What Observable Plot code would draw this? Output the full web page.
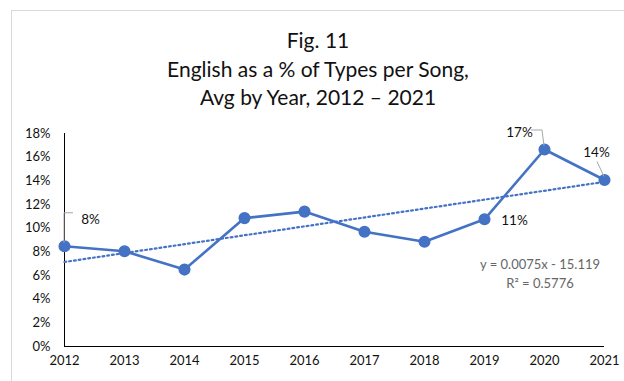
<!DOCTYPE html>
<html>
<head>
<meta charset="utf-8">
<script src="https://cdn.jsdelivr.net/npm/d3@7"></script>
<script src="https://cdn.jsdelivr.net/npm/@observablehq/plot@0.6"></script>
<style>
  html, body { margin: 0; padding: 0; background: #fff; }
  #wrap { position: relative; width: 624px; height: 381px; overflow: hidden; font-family: Lato, "Open Sans", sans-serif; }
  #border { position: absolute; left: 11px; top: 10px; width: 640px; height: 400px; border: 1px solid #d9d9d9; box-sizing: border-box; }
  #title { position: absolute; left: 0; width: 636px; top: 26px; text-align: center; font-size: 21px; line-height: 28.5px; color: #111; }
  #eq { position: absolute; left: 470px; width: 140px; top: 255px; text-align: center; font-size: 13px; line-height: 19px; color: #666; }
  #chart { position: absolute; left: 0; top: 0; }
</style>
</head>
<body>
<div id="wrap">
  <div id="border"></div>
  <div id="chart"></div>
  <div id="title">Fig. 11<br>English as a % of Types per Song,<br>Avg by Year, 2012 – 2021</div>
  <div id="eq">y = 0.0075x - 15.119<br>R² = 0.5776</div>
</div>
<script>
const years = [2012, 2013, 2014, 2015, 2016, 2017, 2018, 2019, 2020, 2021];
const values = [0.0847, 0.0805, 0.0650, 0.1085, 0.1140, 0.0970, 0.0885, 0.1075, 0.1665, 0.1407];
const yTicks = [0, 0.02, 0.04, 0.06, 0.08, 0.10, 0.12, 0.14, 0.16, 0.18];
const labeledYears = [2012, 2019, 2020, 2021];

const data = years.map((year, i) => ({year, value: values[i]}));
const labeled = data.filter(d => labeledYears.includes(d.year));

// label placement (pixel offsets from point) and leader polylines
const labelStyle = {
  2012: {dx: 26, dy: -27, leader: [[0, -3], [0, -33], [9, -33]]},
  2019: {dx: 30, dy: 1, leader: null},
  2020: {dx: -25, dy: -17, leader: [[0, -3], [-2, -19], [-13, -19]]},
  2021: {dx: -8, dy: -27, leader: [[0, -3], [-7, -18]]}
};

const blue = "#4472C4";

function leaders(index, scales) {
  const g = d3.create("svg:g").attr("fill", "none").attr("stroke", "#a6a6a6").attr("stroke-width", 1);
  for (const d of labeled) {
    const s = labelStyle[d.year];
    if (!s.leader) continue;
    const px = scales.x(d.year), py = scales.y(d.value);
    g.append("polyline").attr("points", s.leader.map(([a, b]) => `${px + a},${py + b}`).join(" "));
  }
  return g.node();
}

const chart = Plot.plot({
  width: 624,
  height: 381,
  marginLeft: 64,
  marginRight: 20,
  marginTop: 133,
  marginBottom: 35,
  style: {fontFamily: "Lato, 'Open Sans', sans-serif", fontSize: "13px", color: "#111", background: "transparent"},
  x: {domain: [2012, 2021], ticks: years, tickFormat: "d", tickSize: 0, tickPadding: 9, label: null},
  y: {domain: [0, 0.18], ticks: yTicks, tickFormat: d3.format(".0%"), tickSize: 0, tickPadding: 14, label: null},
  marks: [
    Plot.ruleY([0], {stroke: "#000", strokeWidth: 1}),
    Plot.ruleX([2012], {stroke: "#000", strokeWidth: 1}),
    Plot.linearRegressionY(data, {x: "year", y: "value", ci: 0, stroke: blue, strokeWidth: 2.2, strokeDasharray: "1.8,3"}),
    Plot.line(data, {x: "year", y: "value", stroke: blue, strokeWidth: 2.6}),
    Plot.dot(data, {x: "year", y: "value", r: 5.3, fill: blue, stroke: blue}),
    leaders,
    ...labeled.map(d => Plot.text([d], {
      x: "year", y: "value",
      text: v => d3.format(".0%")(v.value),
      dx: labelStyle[d.year].dx, dy: labelStyle[d.year].dy,
      fontSize: 13.5, fill: "#111"
    }))
  ]
});
document.getElementById("chart").appendChild(chart);
</script>
</body>
</html>
